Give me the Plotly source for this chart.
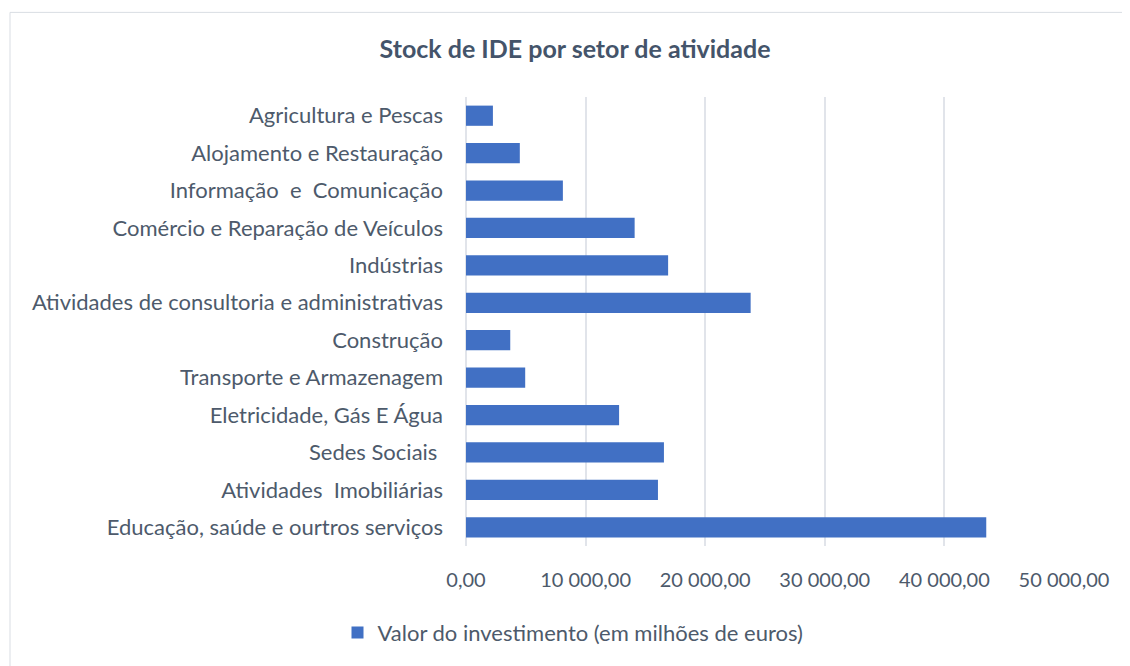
import plotly.graph_objects as go

setores = [
    "Agricultura e Pescas",
    "Alojamento e Restauração",
    "Informação\u00a0 e\u00a0 Comunicação",
    "Comércio e Reparação de Veículos",
    "Indústrias",
    "Atividades de consultoria e administrativas",
    "Construção",
    "Transporte e Armazenagem",
    "Eletricidade, Gás E Água",
    "Sedes Sociais\u00a0",
    "Atividades\u00a0 Imobiliárias",
    "Educação, saúde e ourtros serviços",
]
valores = [2250, 4500, 8100, 14100, 16900, 23800, 3700, 4950, 12800, 16550, 16050, 43500]
serie = "Valor do investimento (em milhões de euros)"

txt = "#4d5a6b"
fnt = "Lato"

# page body has an 8px margin, so the figure is 8px smaller each way
W, H = 1122, 658
L, R, T, B = 458, 1056, 89, 540
pw, ph = R - L, B - T

fig = go.Figure(go.Bar(
    x=valores, y=setores, orientation="h", name=serie,
    marker=dict(color="#4170c4", line=dict(width=0)),
))

fig.update_layout(
    width=W, height=H,
    margin=dict(l=L, r=W - R, t=T, b=H - B),
    paper_bgcolor="white", plot_bgcolor="white",
    separators=", ",
    font=dict(family=fnt, size=22, color=txt),
    title=dict(text="<b>Stock de IDE por setor de atividade</b>",
               x=567 / W, xanchor="center", xref="container",
               y=1 - 41 / H, yanchor="middle", yref="container",
               font=dict(size=25, color="#44546A", family=fnt)),
    bargap=0.46,
    showlegend=True,
    legend=dict(orientation="h", x=(565 - L) / pw, xanchor="center",
                y=-(627 - B) / ph, yanchor="middle",
                font=dict(size=22, color=txt)),
    xaxis=dict(range=[0, 50000], dtick=10000, tickformat=",.2f",
               tickfont=dict(size=20),
               showgrid=True, gridcolor="#e1e4ea", gridwidth=2,
               zeroline=True, zerolinecolor="#e1e4ea", zerolinewidth=2,
               ticks="", ticklabelstandoff=20),
    yaxis=dict(autorange="reversed", showgrid=False, ticks="",
               ticklabelstandoff=22, showline=False),
    shapes=[dict(type="rect", xref="paper", yref="paper",
                 x0=(2 - L) / pw, x1=(1121 - L) / pw,
                 y0=-0.4, y1=(B - 4) / ph,
                 line=dict(color="#d9dde3", width=1), layer="below")],
)

fig.write_html("out.html")
